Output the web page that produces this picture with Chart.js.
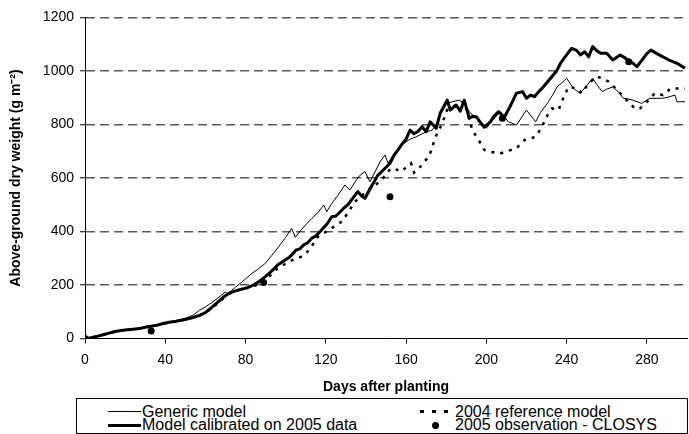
<!DOCTYPE html>
<html><head><meta charset="utf-8">
<script src="https://cdn.jsdelivr.net/npm/chart.js@4.4.1/dist/chart.umd.min.js"></script>
<style>
html,body{margin:0;padding:0;background:#fff;overflow:hidden;width:689px;height:434px;}
#wrap{position:relative;width:689px;height:434px;overflow:hidden;background:#fff;}
#c{position:absolute;left:0;top:0;}
#legend{position:absolute;left:76px;top:398px;width:610px;height:34px;border:1px solid #000;background:#fff;font-family:"Liberation Sans",Arial,sans-serif;font-size:16px;color:#000;}
.txt{position:absolute;white-space:nowrap;line-height:16px;}
.smp{position:absolute;background:#000;}
</style></head>
<body>
<div id="wrap">
<canvas id="c" width="691" height="434"></canvas>
<div id="legend">
  <div class="smp" style="left:31px;top:12px;width:33px;height:1px;"></div>
  <div class="txt" style="left:65px;top:5px;">Generic model</div>
  <div class="smp" style="left:31px;top:25px;width:33px;height:3px;"></div>
  <div class="txt" style="left:65px;top:18px;">Model calibrated on 2005 data</div>
  <div class="smp" style="left:343px;top:11px;width:4px;height:3px;"></div>
  <div class="smp" style="left:355px;top:11px;width:4px;height:3px;"></div>
  <div class="smp" style="left:367px;top:11px;width:4px;height:3px;"></div>
  <div class="txt" style="left:378px;top:5px;">2004 reference model</div>
  <div class="smp" style="left:355px;top:23px;width:7px;height:7px;border-radius:50%;"></div>
  <div class="txt" style="left:378px;top:18px;">2005 observation - CLOSYS</div>
</div>
</div>
<script>
const xTickValues = [0, 40, 80, 120, 160, 200, 240, 280];
const yTickValues = [0, 200, 400, 600, 800, 1000, 1200];

const calibratedDays = [0,3,6,9,12,15,18,21,24,27,30,33,36,39,42,45,48,51,54,57,60,63,66,69,72,75,78,81,84,87,90,93,96,99,102,104,105,107,109,111,113,115,117,119,121,123,125,127,129,131,133,135,136,138,139.5,141,143,145,146,148,150,152,154,156,158,160,162,164,166,168,170,172,174,175,177,179,180.5,182,185,187,189,191.5,193,195,197,199,202,204,206,209,212,215,218,220,222,224,226,228.5,230,232,235,237,240,242.5,245,247,249,251,253,255,257,260,263,266.7,269,271,273,275,278,280,282,285,288,291,293,295,297,299];
const calibratedWeight = [0,3,8,14,20,26,30,33,35,37,42,46,50,56,61,64,68,73,79,86,97,115,135,155,170,178,184,190,200,214,232,252,275,290,305,320,330,335,350,358,375,383,398,415,432,455,458,472,488,500,520,540,549,532,524,545,572,598,611,625,640,655,685,705,727,745,779,765,775,792,773,810,795,786,842,870,891,854,873,850,891,823,830,829,808,790,810,832,848,827,870,917,923,898,910,904,922,941,955,973,1000,1029,1060,1085,1077,1060,1072,1053,1091,1076,1066,1066,1041,1060,1050,1035,1030,1016,1045,1065,1078,1065,1053,1041,1035,1029,1020,1010];

const genericDays = [0,3,6,9,12,15,18,21,24,27,30,33,36,39,42,45,48,51,54,57,60,63,66,68,70,71.5,73,75,78,80,83.5,86,90,93,96.5,100,103,104.8,107,110,113,116,119,120.5,123,126,129.5,132,135,137,139.5,142,145,147,149.5,151,154,156,159,162,165,168,170,173,175,177,180,183,186.5,189,192,196,200,203,207,211,215,220,224.6,227,230.4,233,235.3,238,240,243.4,246.7,250,253,255,257.7,260,263,266,268.3,271,273,277.4,281.5,285,288,291,294,295,299];
const genericWeight = [0,3,8,14,20,27,31,34,36,38,43,47,52,57,63,67,72,78,88,105,118,133,150,162,175,163,180,192,210,223,245,258,282,310,343,378,412,378,400,425,449,470,499,474,505,535,574,555,590,610,624,586,630,660,686,655,690,712,730,745,754,765,772,779,800,835,878,885,891,880,842,822,786,815,848,810,798,854,810,845,879,910,941,958,973,935,917,945,973,950,923,932,941,920,898,895,891,879,898,898,898,903,910,885,885];

const referenceDays = [0,3,6,9,12,15,18,21,24,27,30,33,36,39,42,45,48,51,54,57,60,63,66,69,72,75,78,81,84,87,90,93,96,100,103,106,109.5,113,116,120,124,128,131,134.5,138,141,144,148,150,152.6,155,157.6,160,162.5,164,166.5,169,171.5,174.7,178,180.4,184.9,189,193,196.2,199,202,207,211,215,219,224.6,227.8,230,232.8,236,238.6,241,245,247.6,251,255,257.6,261,266,270,274,276.5,280,284,288,292,296,299];
const referenceWeight = [0,3,8,14,20,26,30,33,35,37,42,46,50,55,60,63,67,72,78,86,97,112,130,150,168,178,185,190,195,205,220,240,262,280,292,300,312,345,380,398,418,437,470,511,535,555,570,593,615,636,632,624,640,655,620,636,661,680,754,804,854,873,885,779,742,705,698,692,702,711,742,754,792,829,860,854,904,941,935,917,954,979,973,960,923,891,860,860,885,917,910,935,935,935];

const obsDays = [0, 33, 89, 152, 208, 271];
const obsWeight = [0, 28, 209, 530, 823, 1035];

const toPts = (d, v) => d.map((x, i) => ({x: x, y: v[i]}));

Chart.defaults.font.family = '"Liberation Sans", Arial, sans-serif';
Chart.defaults.color = '#000';

new Chart(document.getElementById('c').getContext('2d'), {
  type: 'line',
  data: {
    datasets: [
      {label: '2005 observation - CLOSYS', data: toPts(obsDays, obsWeight), showLine: false,
       pointRadius: 3.5, pointBackgroundColor: '#000', pointBorderColor: '#000', pointBorderWidth: 0, order: 0},
      {label: 'Model calibrated on 2005 data', data: toPts(calibratedDays, calibratedWeight),
       borderColor: '#000', borderWidth: 3, pointRadius: 0, tension: 0, borderJoinStyle: 'round', order: 1},
      {label: 'Generic model', data: toPts(genericDays, genericWeight),
       borderColor: '#000', borderWidth: 1, pointRadius: 0, tension: 0, order: 2},
      {label: '2004 reference model', data: toPts(referenceDays, referenceWeight),
       borderColor: '#000', borderWidth: 2.5, borderDash: [3, 6], pointRadius: 0, tension: 0, order: 3}
    ]
  },
  options: {
    responsive: false, animation: false, devicePixelRatio: 1,
    layout: {padding: {left: 0, right: 0, top: 17.5, bottom: 36}},
    plugins: {legend: {display: false}, tooltip: {enabled: false}},
    scales: {
      x: {
        type: 'linear', min: 0, max: 300,
        afterBuildTicks: s => { s.ticks = xTickValues.map(v => ({value: v})); },
        afterFit: s => { s.height = 59.5; },
        ticks: {font: {size: 14}, padding: 8, maxRotation: 0, autoSkip: false, callback: v => String(v)},
        grid: {display: true, drawOnChartArea: false, drawTicks: true, tickLength: 5, color: '#000', tickColor: '#000'},
        border: {display: true, color: '#000', width: 1},
        title: {display: true, text: 'Days after planting', font: {size: 14, weight: 'bold'}, padding: {top: 0, bottom: 2.6}}
      },
      y: {
        type: 'linear', min: 0, max: 1200,
        afterBuildTicks: s => { s.ticks = yTickValues.map(v => ({value: v})); },
        afterFit: s => { s.width = 85; },
        ticks: {font: {size: 14}, padding: 6, callback: v => String(v)},
        grid: {color: c => (c.tick && c.tick.value === 0) ? 'rgba(0,0,0,0)' : '#5a5a5a', lineWidth: 1.5,
               tickColor: '#000', tickLength: 5, tickWidth: 1, tickBorderDash: []},
        border: {display: true, color: '#000', width: 1, dash: [9, 5]},
        title: {display: true, text: 'Above-ground dry weight (g m\u207B\u00B2)', font: {size: 14, weight: 'bold'}, padding: {top: 8, bottom: 0}}
      }
    }
  }
});
</script>
</body></html>
